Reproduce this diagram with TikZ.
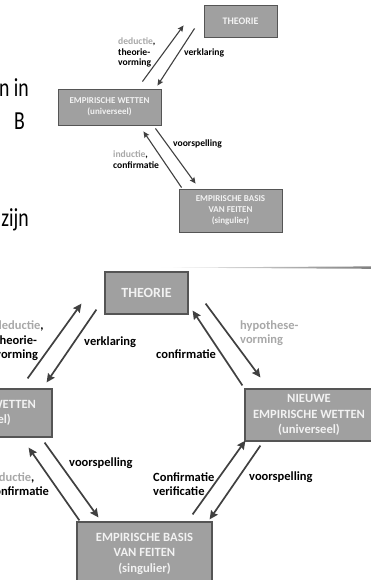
\documentclass[tikz,border=0pt]{standalone}
\usepackage{fontspec}
\setmainfont{Carlito}
\newfontfamily\slidefont[FakeStretch=0.76]{Carlito}
\usetikzlibrary{arrows.meta}
\definecolor{BoxGray}{RGB}{160,160,160}
\definecolor{EdgeGray}{RGB}{85,85,85}
\definecolor{TextWhite}{RGB}{242,242,242}
\definecolor{ArrowGray}{RGB}{64,64,64}
\definecolor{SoftGray}{RGB}{168,168,168}
\definecolor{RuleGray}{RGB}{128,128,128}
\tikzset{
  stage/.style={draw=EdgeGray,fill=BoxGray,line width=1.2pt,text=TextWhite,align=center,inner sep=0pt,font=\fontsize{12.6}{15.5}\selectfont\bfseries},
  stagesmall/.style={stage,line width=0.9pt,font=\fontsize{9}{11}\selectfont\bfseries},
  flow/.style={-{Stealth[length=8.5pt,width=8pt,inset=1pt]},draw=ArrowGray,line width=1.7pt},
  flowsmall/.style={-{Stealth[length=6pt,width=5.5pt,inset=0.8pt]},draw=ArrowGray,line width=1.1pt},
  arclabel/.style={anchor=west,align=left,inner sep=0pt,font=\fontsize{12.5}{14.5}\selectfont\bfseries},
  arclabelsmall/.style={arclabel,font=\fontsize{9.6}{10.5}\selectfont\bfseries},
  slidetext/.style={anchor=base east,inner sep=0pt,font=\slidefont\fontsize{26}{30}\selectfont}
}
\newcommand{\soft}[1]{\textcolor{SoftGray}{#1}}

\begin{document}
\begin{tikzpicture}[x=1pt,y=-1pt]
\useasboundingbox (0,0) rectangle (371,580);
\clip (0,0) rectangle (371,580);
% slide text, cut at the left
\node[slidetext](t1) at (29,97){n in};
\node[slidetext](t2) at (25,130){B};
\node[slidetext](t3) at (29,226){zijn};
% small diagram
\node[stagesmall,minimum width=73pt,minimum height=32pt,font=\fontsize{10}{11}\selectfont\bfseries](ths) at (240.5,21){THEORIE};
\node[stagesmall,minimum width=103pt,minimum height=36pt](lws) at (109.5,107){EMPIRISCHE WETTEN\\(universeel)};
\node[stagesmall,minimum width=103pt,minimum height=43pt](ebs) at (230.5,210.5){EMPIRISCHE BASIS\\VAN FEITEN\\(singulier)};
\draw[flowsmall]([shift={(-19,-7)}]lws.north east)--([shift={(-20,-12)}]ths.south west);
\draw[flowsmall]([shift={(-9,-9)}]ths.south west)--([shift={(-4,-3)}]lws.north east);
\draw[flowsmall]([shift={(3,-1)}]ebs.north west)--([shift={(-18,6)}]lws.south east);
\draw[flowsmall]([shift={(-6,3)}]lws.south east)--([shift={(17,-5)}]ebs.north west);
\node[arclabelsmall] at (118,52.5){\soft{deductie},\\theorie-\\vorming};
\node[arclabelsmall] at (184,53){verklaring};
\node[arclabelsmall] at (173,144){voorspelling};
\node[arclabelsmall] at (113,159.5){\soft{inductie},\\confirmatie};
% rule of the next slide
\shade[left color=white,right color=RuleGray](155,267.6)--(371,266.4)--(371,268.8)--cycle;
% large diagram
\node[stage,minimum width=83pt,minimum height=42pt,font=\fontsize{14}{16}\selectfont\bfseries](th) at (146.5,293){THEORIE};
\node[stage,minimum width=144pt,minimum height=48pt](lw) at (-20,413){EMPIRISCHE WETTEN\\(universeel)};
\node[stage,minimum width=128pt,minimum height=52pt](nw) at (309,415){NIEUWE\\EMPIRISCHE WETTEN\\(universeel)};
\node[stage,minimum width=135pt,minimum height=63pt](eb) at (144.5,553.5){EMPIRISCHE BASIS\\VAN FEITEN\\(singulier)};
\draw[flow]([shift={(-25,-10)}]lw.north east)--([shift={(-23,-11)}]th.south west);
\draw[flow]([shift={(-8,-5)}]th.south west)--([shift={(-6,-6)}]lw.north east);
\draw[flow]([shift={(-2,-3)}]nw.north west)--([shift={(4,-4)}]th.south east);
\draw[flow]([shift={(17,-11)}]th.south east)--([shift={(16,-11)}]nw.north west);
\draw[flow]([shift={(3,-1)}]eb.north west)--([shift={(-24,10)}]lw.south east);
\draw[flow]([shift={(-8,5)}]lw.south east)--([shift={(22,-4)}]eb.north west);
\draw[flow]([shift={(-20,-7)}]eb.north east)--([shift={(1,-1)}]nw.south west);
\draw[flow]([shift={(16,4)}]nw.south west)--([shift={(-3,-2)}]eb.north east);
\node[arclabel] at (-5,341){\soft{deductie},\\theorie-\\vorming};
\node[arclabel] at (84,342){verklaring};
\node[arclabel] at (156,354){confirmatie};
\node[arclabel,text=SoftGray] at (240,333){hypothese-\\vorming};
\node[arclabel] at (69,463){voorspelling};
\node[arclabel] at (-11,484){\soft{inductie},\\confirmatie};
\node[arclabel] at (153,484){Confirmatie\\verificatie};
\node[arclabel] at (249,477){voorspelling};
\end{tikzpicture}
\end{document}
